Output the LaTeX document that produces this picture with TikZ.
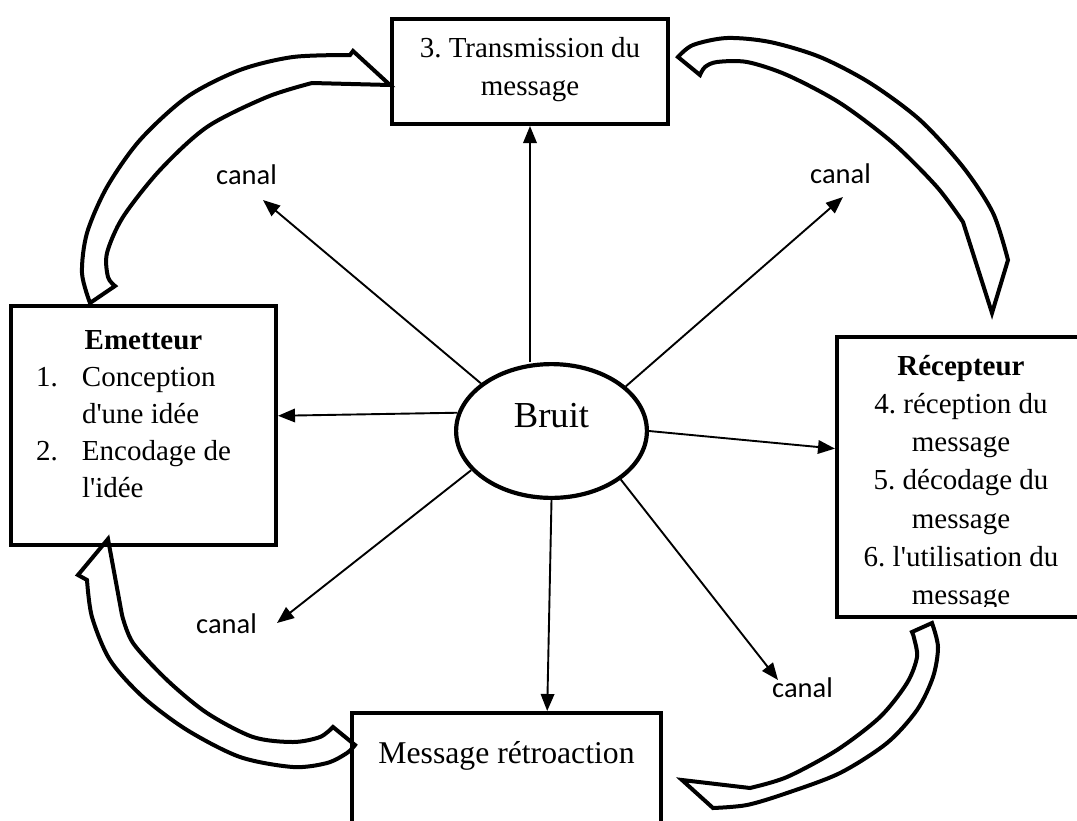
\documentclass[tikz,border=0pt]{standalone}
\usepackage{fontspec}
\setmainfont{Liberation Serif}
\newfontfamily\canalfont{Carlito}
\usetikzlibrary{arrows.meta,calc,shapes.geometric}
\tikzset{
  stagebox/.style={draw, line width=4.2pt, inner sep=0pt},
  stagetxt/.style={font=\fontsize{29}{38.3}\selectfont, inner sep=0pt, align=flush center, anchor=base},
  canaltxt/.style={font=\canalfont\fontsize{28.5}{34}\selectfont, inner sep=0pt, anchor=base},
  ray/.style={line width=1.9pt, -{Triangle[length=17pt,width=13.5pt]}},
  loopar/.style={line width=4pt, line join=miter}
}
\def\q{\textquotesingle}

\begin{document}
\frenchspacing
\begin{tikzpicture}[x=1pt,y=-1pt]
\useasboundingbox (0,0) rectangle (1077,820);
\node[stagebox, minimum width=275.8pt, minimum height=104.8pt] (trans) at (530,71.5) {};
\node[stagebox, minimum width=264.8pt, minimum height=238.8pt] (emit) at (143.5,425.5) {};
\node[stagebox, minimum width=247.8pt, minimum height=279.8pt] (recv) at (961,477) {};
\node[stagebox, minimum width=308.8pt, minimum height=164.8pt] (retro) at (506.5,795.5) {};
\node[draw, ellipse, line width=4.2pt, inner sep=0pt, minimum width=190.8pt, minimum height=133.8pt] (bruit) at (551.5,431) {};

\node[stagetxt, text width=260pt] (transtxt) at (530,57) {3. Transmission du\\message};
\node[stagetxt, text width=215pt, align=flush left, font=\fontsize{29}{37}\selectfont] (emittxt) at (143.5,349) {\makebox[215pt]{\textbf{Emetteur}}\\\makebox[46pt][l]{1.}Conception\\\hspace*{46pt}d\q une idée\\\makebox[46pt][l]{2.}Encodage de\\\hspace*{46pt}l\q idée};
\node[stagetxt, font=\fontsize{36.6}{44}\selectfont] (bruittxt) at (551.5,427) {Bruit};
\node[stagetxt, font=\fontsize{31.7}{38}\selectfont] (retrotxt) at (506.5,763) {Message rétroaction};
\begin{scope}
\clip (839,339) rectangle (1083,606);
\node[stagetxt, text width=244pt] (recvtxt) at (961,375) {\textbf{Récepteur}\\4. réception du\\message\\5. décodage du\\message\\6. l\q utilisation du\\message};
\end{scope}

\node[canaltxt] (canalUL) at (246.5,184) {canal};
\node[canaltxt] (canalUR) at (840.5,183) {canal};
\node[canaltxt] (canalLL) at (226.5,633) {canal};
\node[canaltxt] (canalLR) at (802.5,697) {canal};
\coordinate (tipUL) at (263,200);
\coordinate (tipUR) at (843,197);
\coordinate (tipLL) at (277,623);
\coordinate (tipLR) at (778,680);

\draw[ray] (bruit.north -| trans.south) -- (trans.south);
\draw[ray] (bruit.146) -- (tipUL);
\draw[ray] (bruit.31) -- (tipUR);
\draw[ray] (bruit.169) -- ($(emit.north east)!0.46!(emit.south east)$);
\draw[ray] (bruit.east) -- ($(recv.north west)!0.4!(recv.south west)$);
\draw[ray] (bruit.206) -- (tipLL);
\draw[ray] (bruit.south) -- ($(retro.north west)!0.63!(retro.north east)$);
\draw[ray] (bruit.325) -- (tipLR);

\draw[loopar] plot[smooth] coordinates {(90,303) (82,273) (87,233) (107,187) (140,140) (187,97) (240,70) (293,57) (350,55)} -- (353,51) -- (390,85) -- plot[smooth] coordinates {(312,83) (267,97) (207,127) (160,170) (123,217) (107,253) (108,277) (115,286)} -- cycle;
\draw[loopar] plot[smooth] coordinates {(678,57) (693,45) (727,38) (770,42) (820,57) (870,83) (920,120) (963,167) (993,213) (1008,260)} -- (992,313) -- plot[smooth] coordinates {(963,222) (937,187) (893,143) (840,103) (787,75) (747,62) (717,62) (705,67) (700,75)} -- cycle;
\draw[loopar] plot[smooth] coordinates {(932,623) (938,647) (933,677) (917,710) (887,743) (840,773) (787,793) (747,805) (713,808)} -- (682,780) -- plot[smooth] coordinates {(750,788) (787,777) (837,750) (880,717) (907,683) (917,657) (914,638) (912,632)} -- cycle;
\draw[loopar] plot[smooth] coordinates {(355,745) (347,753) (327,763) (293,767) (240,757) (187,730) (143,697) (110,660) (92,617) (87,580)} -- (78,575) -- (108,539) -- plot[smooth] coordinates {(122,615) (133,643) (167,680) (207,713) (253,737) (293,742) (320,737) (333,727)} -- cycle;
\end{tikzpicture}
\end{document}
